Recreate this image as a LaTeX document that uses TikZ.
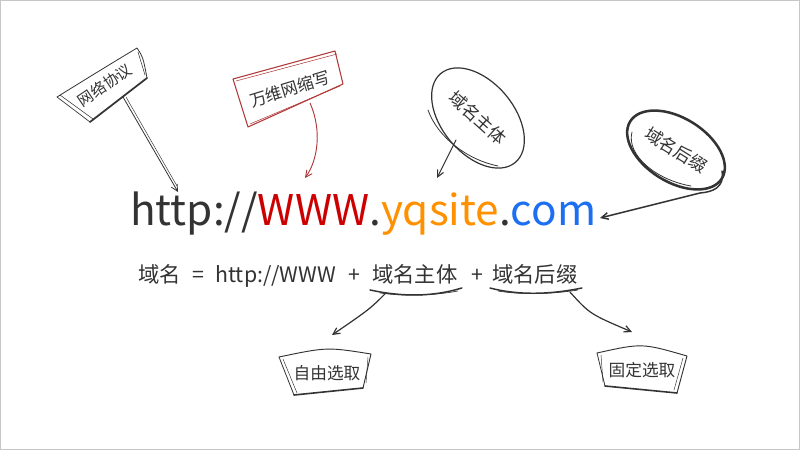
\documentclass[tikz,border=0pt]{standalone}
\usepackage{fontspec}
\setmainfont{Noto Sans CJK SC}
\usetikzlibrary{arrows.meta,shapes.geometric,calc}
\definecolor{ink}{HTML}{333333}
\definecolor{urlred}{HTML}{CC0000}
\definecolor{urlorange}{HTML}{FF9100}
\definecolor{urlblue}{HTML}{1C6EF2}
\definecolor{signred}{HTML}{B03A3A}
\tikzset{
  sketch/.style={draw=ink, line width=0.7pt, line cap=round, line join=round},
  tip/.style={-{Straight Barb[length=5pt,width=5pt]}},
  labeltext/.style={text=ink, inner sep=0pt},
  formula/.style={labeltext, anchor=base west, font=\fontsize{16pt}{18pt}\selectfont},
  boxtext/.style={labeltext, font=\fontsize{12.5pt}{14pt}\selectfont},
}
\begin{document}
\begin{tikzpicture}[x=0.75pt,y=-0.75pt]
\useasboundingbox (0,0) rectangle (800,450);
\fill[white] (0,0) rectangle (800,450);
\draw[gray!45, line width=0.75pt] (0.5,0.5) rectangle (799.5,449.5);

% ---------- main URL ----------
\node[anchor=base west, inner sep=0pt, font=\fontsize{31.7pt}{36pt}\selectfont] (url) at (130,225)
  {\textcolor{ink}{http://}\textcolor{urlred}{WWW}\textcolor{ink}{.}\textcolor{urlorange}{yqsite}\textcolor{ink}{.}\textcolor{urlblue}{com}};

% ---------- formula ----------
\node[formula] (f1) at (138,282) {域名\hspace{8.5pt}=\hspace{8.5pt}http://WWW};
\node[formula] (p1) at (348,282) {+};
\node[formula] (f2) at (372,282) {域名主体};
\node[formula] (p2) at (471,282) {+};
\node[formula] (f4) at (492,282) {域名后缀};

% underline strokes
\draw[sketch, line width=1.1pt] ([shift={(-2,6)}]f2.south west) .. controls ([shift={(30,13)}]f2.south west) and ([shift={(-25,13)}]f2.south east) .. ([shift={(4,4)}]f2.south east);
\draw[sketch, line width=0.5pt] ([shift={(8,9)}]f2.south west) .. controls ([shift={(35,13)}]f2.south west) and ([shift={(-20,11)}]f2.south east) .. ([shift={(0,7)}]f2.south east);
\draw[sketch, line width=1.1pt] ([shift={(-2,4)}]f4.south west) .. controls ([shift={(25,11)}]f4.south west) and ([shift={(-30,11)}]f4.south east) .. ([shift={(4,4)}]f4.south east);
\draw[sketch, line width=0.5pt] ([shift={(6,7)}]f4.south west) .. controls ([shift={(30,11)}]f4.south west) and ([shift={(-25,10)}]f4.south east) .. ([shift={(0,6)}]f4.south east);

% ---------- sign 1: 网络协议 ----------
\node[rotate=34, inner sep=0pt, font=\fontsize{11.5pt}{13pt}\selectfont, text=ink] (s1) at (105,85) {网络协议};
\draw[sketch, line width=0.6pt] ([shift={(-48,12)}]s1.center) .. controls ([shift={(-6,-14)}]s1.center) .. ([shift={(32,-37)}]s1.center) .. controls ([shift={(38,-28)}]s1.center) .. ([shift={(42,-7)}]s1.center);
\draw[sketch, line width=1.3pt] ([shift={(42,-7)}]s1.center) -- ([shift={(-15,37)}]s1.center);
\draw[sketch, line width=0.5pt] ([shift={(-15,37)}]s1.center) -- ([shift={(-48,12)}]s1.center);
\draw[sketch, line width=0.4pt] ([shift={(-45,10)}]s1.center) -- ([shift={(-12,34)}]s1.center);
\draw[sketch, line width=0.4pt] ([shift={(33,-33)}]s1.center) -- ([shift={(40,-10)}]s1.center);
\coordinate (t1) at (178,192);
\draw[sketch, line width=0.6pt, tip] ([shift={(18,12)}]s1.center) -- (t1);
\draw[sketch, line width=0.35pt] ([shift={(21,12)}]s1.center) -- ([shift={(-1,-6)}]t1);

% ---------- sign 2: 万维网缩写 ----------
\node[rotate=17, inner sep=0pt, font=\fontsize{12.5pt}{14pt}\selectfont, text=ink] (s2) at (290,89) {万维网缩写};
\draw[draw=signred, line width=0.8pt, line join=round] ([shift={(-57,-10)}]s2.center) -- ([shift={(45,-38)}]s2.center) -- ([shift={(53,-5)}]s2.center) -- ([shift={(-42,38)}]s2.center) -- cycle;
\draw[draw=signred, line width=0.4pt] ([shift={(-54,-8)}]s2.center) -- ([shift={(47,-35)}]s2.center);
\draw[draw=signred, line width=0.4pt] ([shift={(-40,35)}]s2.center) -- ([shift={(50,-3)}]s2.center);
\coordinate (t2) at (305,178);
\draw[draw=signred, line width=0.7pt, tip] ([shift={(20,14)}]s2.center) .. controls (322,130) and (318,160) .. (t2);

% ---------- ellipse 1: 域名主体 ----------
\node[rotate=-42, inner sep=0pt, font=\fontsize{13pt}{15pt}\selectfont, text=ink] (e1) at (478,118) {域名主体};
\draw[sketch, line width=0.9pt, rotate around={-50:(e1.center)}] (e1.center) ellipse [x radius=43.5pt, y radius=27pt];
\draw[sketch, line width=0.6pt] ([shift={(-50,-8)}]e1.center) .. controls ([shift={(-40,20)}]e1.center) and ([shift={(-10,42)}]e1.center) .. ([shift={(20,48)}]e1.center);
\coordinate (t3) at (437,178);
\draw[sketch, line width=0.8pt, tip] ([shift={(-22,22)}]e1.center) -- (t3);

% ---------- ellipse 2: 域名后缀 ----------
\node[ellipse, draw=ink, line width=1.9pt, rotate=-32, minimum width=81pt, minimum height=48pt, inner sep=0pt,
      font=\fontsize{13pt}{15pt}\selectfont, text=ink] (e2) at (676,150) {域名后缀};
\draw[sketch, line width=0.6pt] ([shift={(-44,-18)}]e2.center) .. controls ([shift={(-50,5)}]e2.center) and ([shift={(-20,30)}]e2.center) .. ([shift={(15,36)}]e2.center);
\coordinate (t4) at (600,218);
\draw[sketch, line width=1.1pt, tip] ([shift={(46,21)}]e2.center) .. controls ([shift={(49,38)}]e2.center) and ([shift={(36,42)}]e2.center) .. ([shift={(24,43)}]e2.center) -- (t4);

% ---------- bottom boxes ----------
\node[boxtext] (b1) at (327,373) {自由选取};
\draw[sketch, line width=0.7pt] ([shift={(-48,-16)}]b1.center) .. controls ([shift={(0,-26)}]b1.center) .. ([shift={(44,-19)}]b1.center) -- ([shift={(36,15)}]b1.center);
\draw[sketch, line width=1.2pt] ([shift={(36,15)}]b1.center) -- ([shift={(-33,22)}]b1.center);
\draw[sketch, line width=0.6pt] ([shift={(-33,22)}]b1.center) -- ([shift={(-48,-16)}]b1.center);
\draw[sketch, line width=0.35pt] ([shift={(-44,-14)}]b1.center) -- ([shift={(-30,20)}]b1.center);
\draw[sketch, line width=0.35pt] ([shift={(41,-16)}]b1.center) -- ([shift={(39,10)}]b1.center);

\node[boxtext] (b2) at (642,370) {固定选取};
\draw[sketch, line width=0.7pt] ([shift={(-45,-17)}]b2.center) .. controls ([shift={(0,-27)}]b2.center) .. ([shift={(45,-14)}]b2.center) -- ([shift={(35,23)}]b2.center);
\draw[sketch, line width=1.2pt] ([shift={(35,23)}]b2.center) -- ([shift={(-37,16)}]b2.center);
\draw[sketch, line width=0.6pt] ([shift={(-37,16)}]b2.center) -- ([shift={(-45,-17)}]b2.center);
\draw[sketch, line width=0.35pt] ([shift={(-41,-15)}]b2.center) -- ([shift={(-39,12)}]b2.center);
\draw[sketch, line width=0.35pt] ([shift={(41,-12)}]b2.center) -- ([shift={(32,20)}]b2.center);

% connectors to the boxes
\draw[sketch, line width=0.9pt, tip] ([shift={(-29,9)}]f2.south) .. controls ([shift={(-45,25)}]f2.south) .. ([shift={(5,-30)}]b1.north);
\draw[sketch, line width=0.9pt, tip] ([shift={(35,8)}]f4.south) .. controls ([shift={(55,30)}]f4.south) .. ([shift={(-10,-30)}]b2.north);
\end{tikzpicture}
\end{document}
